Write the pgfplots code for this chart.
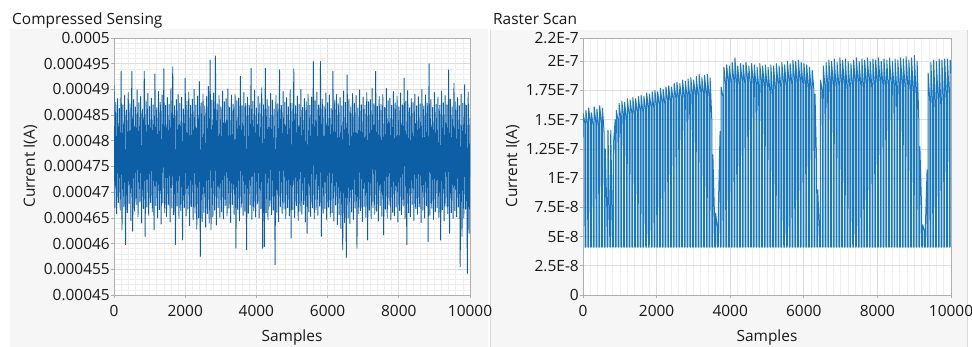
\documentclass[border=0pt]{standalone}
\usepackage{fontspec}
\setmainfont{Open Sans}
\usepackage{pgfplots}
\pgfplotsset{compat=1.18}
\definecolor{panelbg}{RGB}{246,246,246}
\definecolor{panelline}{RGB}{218,218,218}
\definecolor{gridmaj}{RGB}{222,222,222}
\definecolor{gridmin}{RGB}{239,239,239}
\definecolor{framec}{RGB}{175,175,175}
\definecolor{sigA}{RGB}{12,94,165}
\definecolor{sigB}{RGB}{25,120,192}
\definecolor{txt}{RGB}{25,25,25}
\newcommand{\lvfont}{\fontsize{15.5}{18}\selectfont}
\pgfplotsset{
  lvstyle/.style={
    scale only axis, height=257bp,
    xmin=0, xmax=10000, xtick={0,2000,4000,6000,8000,10000},
    minor x tick num=9, minor y tick num=4,
    grid=both,
    major grid style={gridmaj, line width=0.8bp},
    minor grid style={gridmin, line width=0.6bp},
    axis line style={framec, line width=0.8bp},
    tick align=outside, major tick length=3bp, minor tick length=0pt,
    tick style={framec, line width=0.8bp},
    xtick pos=left, ytick pos=left,
    ticklabel style={font=\lvfont, text=txt, inner sep=1bp},
    xticklabel style={yshift=-6bp},
    /pgf/number format/assume math mode=true,
    /pgf/number format/1000 sep={},
    scaled ticks=false,
    axis background/.style={fill=white},
    every axis x label/.style={at={(axis description cs:0.5,0)}, anchor=base, yshift=-46bp, font=\lvfont, text=txt},
  }
}
\begin{document}
\begin{tikzpicture}
\useasboundingbox (0,0) rectangle (972bp,347bp);
\fill[white] (0,0) rectangle (972bp,347bp);
\fill[panelbg] (10bp,0) rectangle (488bp,318bp);
\fill[panelbg] (491bp,0) rectangle (967bp,317bp);
\draw[panelline, line width=1bp] (490.5bp,0) -- (490.5bp,317bp);
\draw[panelline, line width=1bp] (967.5bp,0) -- (967.5bp,317bp);
\node[anchor=base west, inner sep=0pt, font=\lvfont, text=txt] at (12bp,322.5bp) {Compressed Sensing};
\node[anchor=base west, inner sep=0pt, font=\lvfont, text=txt] at (493bp,322.5bp) {Raster Scan};

% Left: Compressed Sensing (current in units of 1e-6 A)
\begin{axis}[lvstyle, at={(114bp,52bp)}, anchor=south west, width=356bp,
  ymin=450, ymax=500,
  ytick={450,455,460,465,470,475,480,485,490,495,500},
  yticklabels={0.00045,0.000455,0.00046,0.000465,0.00047,0.000475,0.00048,0.000485,0.00049,0.000495,0.0005},
  xlabel={Samples}, ylabel={Current I(A)},
  every axis y label/.style={at={(axis description cs:-0.222,0.5)}, rotate=90, anchor=base, font=\lvfont, text=txt},
]
\addplot[sigA, line width=0.9bp, line join=round] coordinates {
(0,490.9)(25,467.0)(50,487.5)(75,465.8)(100,488.2)(125,468.0)(150,486.3)(175,466.5)(200,493.5)(225,462.7)(250,487.0)(275,467.2)(300,488.8)(325,459.8)(350,486.0)(375,466.0)(400,489.4)(425,467.8)(450,487.2)(475,464.5)
(500,493.5)(525,462.4)(550,488.0)(575,466.3)(600,486.6)(625,467.6)(650,489.9)(675,465.2)(700,487.4)(725,468.2)(750,488.6)(775,464.0)(800,486.1)(825,466.8)(850,493.5)(875,461.4)(900,487.8)(925,467.1)(950,489.2)(975,465.5)
(1000,486.7)(1025,468.0)(1050,488.3)(1075,466.2)(1100,487.0)(1125,462.7)(1150,493.0)(1175,467.4)(1200,486.4)(1225,465.0)(1250,489.6)(1275,466.6)(1300,487.5)(1325,463.8)(1350,488.9)(1375,467.9)(1400,494.0)(1425,466.0)(1450,486.9)(1475,465.3)
(1500,488.4)(1525,467.5)(1550,487.1)(1575,464.2)(1600,490.2)(1625,466.9)(1650,494.4)(1675,465.6)(1700,486.8)(1725,459.8)(1750,488.0)(1775,467.3)(1800,489.0)(1825,464.9)(1850,487.3)(1875,466.4)(1900,488.5)(1925,460.7)(1950,486.2)(1975,467.0)
(2000,492.2)(2025,465.4)(2050,487.7)(2075,466.7)(2100,489.5)(2125,463.5)(2150,486.9)(2175,467.2)(2200,488.1)(2225,464.6)(2250,490.0)(2275,465.9)(2300,487.0)(2325,462.8)(2350,488.7)(2375,465.0)(2400,491.5)(2425,457.5)(2450,487.4)(2475,464.3)
(2500,489.1)(2525,466.1)(2550,486.7)(2575,463.2)(2600,488.6)(2625,465.8)(2650,490.6)(2675,464.0)(2700,495.7)(2725,462.7)(2750,487.9)(2775,465.2)(2800,489.3)(2825,466.5)(2850,496.5)(2875,463.6)(2900,487.2)(2925,467.0)(2950,488.8)(2975,465.1)
(3000,486.6)(3025,466.2)(3050,489.7)(3075,464.8)(3100,487.6)(3125,467.4)(3150,488.2)(3175,465.4)(3200,490.1)(3225,466.9)(3250,486.5)(3275,464.1)(3300,488.9)(3325,467.6)(3350,487.1)(3375,465.7)(3400,489.0)(3425,459.1)(3450,487.8)(3475,466.6)
(3500,488.3)(3525,464.4)(3550,492.5)(3575,467.1)(3600,486.8)(3625,465.5)(3650,489.4)(3675,466.3)(3700,487.3)(3725,458.8)(3750,488.5)(3775,465.9)(3800,486.9)(3825,467.5)(3850,494.1)(3875,464.7)(3900,487.7)(3925,466.4)(3950,489.8)(3975,465.2)
(4000,486.4)(4025,467.7)(4050,488.6)(4075,465.0)(4100,487.4)(4125,466.8)(4150,490.3)(4175,459.1)(4200,487.0)(4225,459.4)(4250,494.1)(4275,466.0)(4300,488.0)(4325,464.6)(4350,486.7)(4375,467.3)(4400,489.2)(4425,465.6)(4450,487.9)(4475,466.5)
(4500,486.2)(4525,455.9)(4550,488.8)(4575,466.1)(4600,487.2)(4625,464.3)(4650,493.8)(4675,467.2)(4700,486.9)(4725,465.8)(4750,489.6)(4775,466.7)(4800,487.5)(4825,464.9)(4850,488.4)(4875,467.0)(4900,486.6)(4925,465.4)(4950,489.9)(4975,461.1)
(5000,487.3)(5025,466.6)(5050,494.0)(5075,465.1)(5100,486.8)(5125,467.4)(5150,488.7)(5175,464.5)(5200,487.1)(5225,466.3)(5250,490.0)(5275,465.7)(5300,486.5)(5325,467.6)(5350,488.2)(5375,464.2)(5400,487.6)(5425,462.0)(5450,489.1)(5475,466.2)
(5500,486.9)(5525,465.3)(5550,488.5)(5575,467.0)(5600,495.4)(5625,464.8)(5650,487.8)(5675,466.6)(5700,489.5)(5725,465.5)(5750,487.0)(5775,467.3)(5800,495.4)(5825,461.4)(5850,488.1)(5875,465.9)(5900,486.7)(5925,466.8)(5950,489.3)(5975,464.6)
(6000,487.4)(6025,467.1)(6050,488.9)(6075,465.2)(6100,486.3)(6125,466.0)(6150,493.5)(6175,464.4)(6200,487.9)(6225,467.5)(6250,489.0)(6275,463.7)(6300,487.2)(6325,465.6)(6350,488.4)(6375,462.9)(6400,486.8)(6425,458.8)(6450,489.7)(6475,464.1)
(6500,487.5)(6525,457.2)(6550,492.8)(6575,465.0)(6600,488.1)(6625,463.9)(6650,486.6)(6675,466.2)(6700,489.2)(6725,464.7)(6750,487.3)(6775,466.9)(6800,488.8)(6825,459.1)(6850,486.4)(6875,465.8)(6900,489.9)(6925,466.4)(6950,487.0)(6975,464.3)
(7000,488.5)(7025,467.2)(7050,486.9)(7075,465.1)(7100,489.4)(7125,460.7)(7150,487.6)(7175,466.5)(7200,488.0)(7225,464.9)(7250,490.2)(7275,467.0)(7300,487.2)(7325,465.7)(7350,493.5)(7375,466.3)(7400,486.7)(7425,464.4)(7450,488.6)(7475,467.4)
(7500,487.1)(7525,465.3)(7550,489.0)(7575,461.7)(7600,486.5)(7625,466.7)(7650,490.2)(7675,465.0)(7700,487.8)(7725,467.5)(7750,488.3)(7775,464.6)(7800,486.9)(7825,466.1)(7850,489.6)(7875,465.4)(7900,487.4)(7925,467.1)(7950,488.7)(7975,464.2)
(8000,486.6)(8025,466.4)(8050,489.3)(8075,465.6)(8100,487.0)(8125,467.3)(8150,492.2)(8175,464.8)(8200,487.7)(8225,459.8)(8250,489.8)(8275,466.0)(8300,486.4)(8325,465.2)(8350,488.2)(8375,467.6)(8400,487.5)(8425,464.5)(8450,489.1)(8475,466.8)
(8500,486.8)(8525,465.7)(8550,488.6)(8575,467.2)(8600,487.2)(8625,464.1)(8650,490.0)(8675,466.5)(8700,486.7)(8725,465.0)(8750,488.9)(8775,467.4)(8800,487.3)(8825,460.4)(8850,495.0)(8875,465.5)(8900,488.0)(8925,466.9)(8950,486.5)(8975,464.7)
(9000,489.4)(9025,466.2)(9050,487.1)(9075,467.0)(9100,488.5)(9125,465.1)(9150,486.9)(9175,460.7)(9200,489.7)(9225,466.6)(9250,487.4)(9275,464.4)(9300,488.8)(9325,467.3)(9350,487.0)(9375,465.8)(9400,493.8)(9425,462.0)(9450,488.1)(9475,466.0)
(9500,486.6)(9525,464.9)(9550,491.2)(9575,466.4)(9600,487.6)(9625,465.2)(9650,488.4)(9675,467.1)(9700,486.8)(9725,455.5)(9750,489.0)(9775,461.4)(9800,487.3)(9825,465.0)(9850,490.9)(9875,466.7)(9900,486.9)(9925,454.2)(9950,489.5)(9975,462.0)(10000,484.5)
};
\end{axis}

% Right: Raster Scan (current in units of 1e-9 A)
\begin{axis}[lvstyle, at={(583bp,52bp)}, anchor=south west, width=368bp,
  ymin=0, ymax=220,
  ytick={0,25,50,75,100,125,150,175,200,220},
  yticklabels={0,2.5E-8,5E-8,7.5E-8,1E-7,1.25E-7,1.5E-7,1.75E-7,2E-7,2.2E-7},
  xlabel={Samples}, ylabel={Current I(A)},
  every axis y label/.style={at={(axis description cs:-0.179,0.5)}, rotate=90, anchor=base, font=\lvfont, text=txt},
]
\addplot[sigB, line width=1bp, line join=round] coordinates {
(0,135)(8,155)(50,147)(55,41)
(75,41)(79,158)(125,146)(130,41)
(150,41)(154,160)(200,148)(205,41)
(225,41)(229,156)(275,145)(280,41)
(300,41)(304,161)(350,147)(355,41)
(375,41)(379,159)(425,144)(430,41)
(450,41)(454,162)(500,146)(505,41)
(525,41)(529,160)(575,138)(580,41)
(600,41)(604,125)(650,70)(655,41)
(675,41)(679,141)(725,55)(730,41)
(750,41)(754,141)(800,54)(805,41)
(825,41)(829,130)(875,150)(880,41)
(900,41)(904,158)(950,150)(955,41)
(975,41)(979,164)(1025,152)(1030,41)
(1050,41)(1054,166)(1100,154)(1105,41)
(1125,41)(1129,165)(1175,152)(1180,41)
(1200,41)(1204,168)(1250,155)(1255,41)
(1275,41)(1279,167)(1325,156)(1330,41)
(1350,41)(1354,169)(1400,155)(1405,41)
(1425,41)(1429,168)(1475,157)(1480,41)
(1500,41)(1504,170)(1550,158)(1555,41)
(1575,41)(1579,171)(1625,157)(1630,41)
(1650,41)(1654,170)(1700,159)(1705,41)
(1725,41)(1729,173)(1775,160)(1780,41)
(1800,41)(1804,172)(1850,161)(1855,41)
(1875,41)(1879,174)(1925,160)(1930,41)
(1950,41)(1954,175)(2000,162)(2005,41)
(2025,41)(2029,174)(2075,163)(2080,41)
(2100,41)(2104,177)(2150,164)(2155,41)
(2175,41)(2179,176)(2225,163)(2230,41)
(2250,41)(2254,178)(2300,166)(2305,41)
(2325,41)(2329,179)(2375,165)(2380,41)
(2400,41)(2404,178)(2450,167)(2455,41)
(2475,41)(2479,181)(2525,168)(2530,41)
(2550,41)(2554,182)(2600,167)(2605,41)
(2625,41)(2629,181)(2675,169)(2680,41)
(2700,41)(2704,184)(2750,170)(2755,41)
(2775,41)(2779,183)(2825,171)(2830,41)
(2850,41)(2854,185)(2900,170)(2905,41)
(2925,41)(2929,186)(2975,172)(2980,41)
(3000,41)(3004,184)(3050,173)(3055,41)
(3075,41)(3079,187)(3125,171)(3130,41)
(3150,41)(3154,189)(3200,174)(3205,41)
(3225,41)(3229,186)(3275,173)(3280,41)
(3300,41)(3304,188)(3350,172)(3355,41)
(3375,41)(3379,189)(3425,170)(3430,41)
(3450,41)(3454,186)(3500,150)(3505,41)
(3525,41)(3529,120)(3575,65)(3580,41)
(3600,41)(3604,70)(3650,58)(3655,41)
(3675,41)(3679,75)(3725,140)(3730,41)
(3750,41)(3754,178)(3800,170)(3805,41)
(3825,41)(3829,195)(3875,180)(3880,41)
(3900,41)(3904,197)(3950,182)(3955,41)
(3975,41)(3979,196)(4025,181)(4030,41)
(4050,41)(4054,199)(4100,183)(4105,41)
(4125,41)(4129,203)(4175,180)(4180,41)
(4200,41)(4204,196)(4250,179)(4255,41)
(4275,41)(4279,198)(4325,182)(4330,41)
(4350,41)(4354,197)(4400,180)(4405,41)
(4425,41)(4429,199)(4475,183)(4480,41)
(4500,41)(4504,196)(4550,181)(4555,41)
(4575,41)(4579,198)(4625,184)(4630,41)
(4650,41)(4654,197)(4700,180)(4705,41)
(4725,41)(4729,195)(4775,178)(4780,41)
(4800,41)(4804,198)(4850,182)(4855,41)
(4875,41)(4879,196)(4925,180)(4930,41)
(4950,41)(4954,197)(5000,179)(5005,41)
(5025,41)(5029,195)(5075,175)(5080,41)
(5100,41)(5104,197)(5150,172)(5155,41)
(5175,41)(5179,196)(5225,176)(5230,41)
(5250,41)(5254,198)(5300,180)(5305,41)
(5325,41)(5329,196)(5375,178)(5380,41)
(5400,41)(5404,199)(5450,181)(5455,41)
(5475,41)(5479,197)(5525,179)(5530,41)
(5550,41)(5554,200)(5600,182)(5605,41)
(5625,41)(5629,198)(5675,180)(5680,41)
(5700,41)(5704,201)(5750,183)(5755,41)
(5775,41)(5779,200)(5825,181)(5830,41)
(5850,41)(5854,201)(5900,182)(5905,41)
(5925,41)(5929,199)(5975,180)(5980,41)
(6000,41)(6004,198)(6050,179)(6055,41)
(6075,41)(6079,197)(6125,176)(6130,41)
(6150,41)(6154,195)(6200,174)(6205,41)
(6225,41)(6229,192)(6275,175)(6280,41)
(6300,41)(6304,172)(6350,110)(6355,41)
(6375,41)(6379,90)(6425,55)(6430,41)
(6450,41)(6454,184)(6500,175)(6505,41)
(6525,41)(6529,196)(6575,178)(6580,41)
(6600,41)(6604,199)(6650,180)(6655,41)
(6675,41)(6679,201)(6725,182)(6730,41)
(6750,41)(6754,200)(6800,181)(6805,41)
(6825,41)(6829,202)(6875,179)(6880,41)
(6900,41)(6904,199)(6950,180)(6955,41)
(6975,41)(6979,203)(7025,182)(7030,41)
(7050,41)(7054,201)(7100,181)(7105,41)
(7125,41)(7129,202)(7175,176)(7180,41)
(7200,41)(7204,200)(7250,178)(7255,41)
(7275,41)(7279,198)(7325,180)(7330,41)
(7350,41)(7354,201)(7400,182)(7405,41)
(7425,41)(7429,203)(7475,181)(7480,41)
(7500,41)(7504,200)(7550,179)(7555,41)
(7575,41)(7579,202)(7625,177)(7630,41)
(7650,41)(7654,201)(7700,180)(7705,41)
(7725,41)(7729,203)(7775,182)(7780,41)
(7800,41)(7804,200)(7850,176)(7855,41)
(7875,41)(7879,202)(7925,178)(7930,41)
(7950,41)(7954,201)(8000,180)(8005,41)
(8025,41)(8029,203)(8075,181)(8080,41)
(8100,41)(8104,200)(8150,179)(8155,41)
(8175,41)(8179,202)(8225,177)(8230,41)
(8250,41)(8254,201)(8300,178)(8305,41)
(8325,41)(8329,203)(8375,180)(8380,41)
(8400,41)(8404,200)(8450,178)(8455,41)
(8475,41)(8479,202)(8525,176)(8530,41)
(8550,41)(8554,201)(8600,179)(8605,41)
(8625,41)(8629,203)(8675,181)(8680,41)
(8700,41)(8704,202)(8750,178)(8755,41)
(8775,41)(8779,204)(8825,180)(8830,41)
(8850,41)(8854,201)(8900,176)(8905,41)
(8925,41)(8929,203)(8975,174)(8980,41)
(9000,41)(9004,205)(9050,172)(9055,41)
(9075,41)(9079,200)(9125,150)(9130,41)
(9150,41)(9154,127)(9200,75)(9205,41)
(9225,41)(9229,60)(9275,55)(9280,41)
(9300,41)(9304,58)(9350,107)(9355,41)
(9375,41)(9379,190)(9425,165)(9430,41)
(9450,41)(9454,199)(9500,162)(9505,41)
(9525,41)(9529,201)(9575,158)(9580,41)
(9600,41)(9604,200)(9650,165)(9655,41)
(9675,41)(9679,202)(9725,160)(9730,41)
(9750,41)(9754,201)(9800,163)(9805,41)
(9825,41)(9829,202)(9875,166)(9880,41)
(9900,41)(9904,202)(9950,170)(9955,41)
(9975,41)(9979,201)(10000,190)
};
\end{axis}
\end{tikzpicture}
\end{document}
